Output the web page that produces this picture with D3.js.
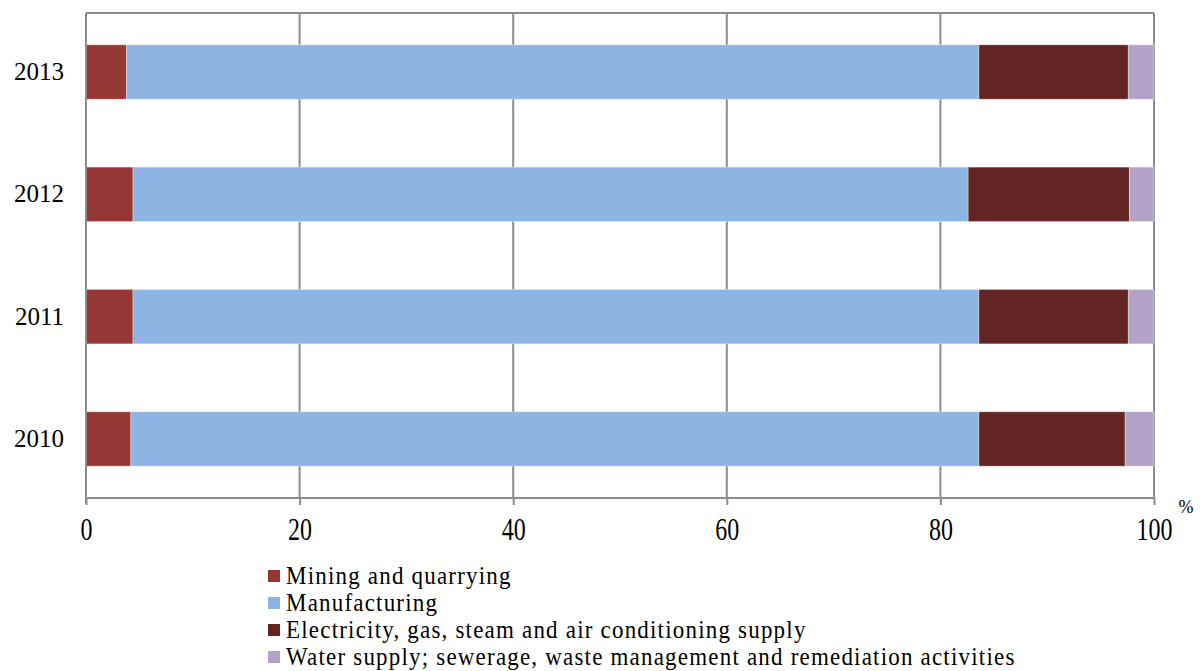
<!DOCTYPE html>
<html><head><meta charset="utf-8">
<script src="https://cdn.jsdelivr.net/npm/d3@7"></script>
</head><body style="margin:0">
<svg id="c" width="1200" height="671" font-family="Liberation Serif" style="font-family:'Liberation Serif';display:block"></svg>
<script>
const years = ["2010","2011","2012","2013"];
const seriesNames = ["Mining and quarrying","Manufacturing","Electricity, gas, steam and air conditioning supply","Water supply; sewerage, waste management and remediation activities"];
const mining        = [4.2, 4.4, 4.4, 3.8];
const manufacturing = [79.4, 79.2, 78.2, 79.8];
const electricity   = [13.7, 14.0, 15.1, 14.0];
const water         = [2.7, 2.4, 2.3, 2.4];
const xTicks = [0,20,40,60,80,100];
const colors = ["#953735","#8EB4E3","#632523","#B3A2C7"];

const svg = d3.select("#c");
const L=86, R=1154, T=13, B=498;
const x = d3.scaleLinear().domain([0,100]).range([L,R]);
const y = d3.scaleBand().domain(years.slice().reverse()).range([T,B]).paddingInner(0.555).paddingOuter(0.26);

const rows = years.map((yr,i)=>({year:yr, v:[mining[i],manufacturing[i],electricity[i],water[i]]}));
const stack = d3.stack().keys([0,1,2,3]).value((d,k)=>d.v[k]);
const layers = stack(rows);

svg.append("g").selectAll("line").data(xTicks.slice(1)).join("line")
  .attr("x1",d=>x(d)).attr("x2",d=>x(d)).attr("y1",T).attr("y2",B)
  .attr("stroke","#8c8c8c").attr("stroke-width",2);
svg.append("line").attr("x1",L).attr("x2",R).attr("y1",T).attr("y2",T).attr("stroke","#8c8c8c").attr("stroke-width",2);

svg.append("g").selectAll("g").data(layers).join("g")
  .attr("fill",(d,i)=>colors[i])
  .selectAll("rect").data(d=>d).join("rect")
  .attr("x",d=>x(d[0])).attr("width",d=>x(d[1])-x(d[0]))
  .attr("y",d=>y(d.data.year)).attr("height",y.bandwidth())
  .attr("stroke","rgba(255,255,255,0.35)").attr("stroke-width",1);

const xa = svg.append("g").attr("transform",`translate(0,${B})`)
  .call(d3.axisBottom(x).tickValues(xTicks).tickSize(7).tickPadding(14).tickFormat(d3.format("d")));
xa.attr("font-family","Liberation Serif").attr("font-size",24);
xa.select(".domain").attr("stroke","#8c8c8c").attr("stroke-width",2).attr("d",`M${L},0H${R}`);
xa.selectAll(".tick line").attr("stroke","#8c8c8c").attr("stroke-width",2);
xa.selectAll(".tick text").attr("fill","#000").attr("y",0).attr("dy",0)
  .attr("transform","translate(0,42) scale(1,1.3)");

const ya = svg.append("g").attr("transform",`translate(${L},0)`)
  .call(d3.axisLeft(y).tickSize(0).tickPadding(22));
ya.attr("font-family","Liberation Serif").attr("font-size",25);
ya.select(".domain").attr("stroke","#8c8c8c").attr("stroke-width",2).attr("d",`M0,${T}V${B+6}`);
ya.selectAll(".tick text").attr("fill","#000");

svg.append("text").attr("x",1186).attr("y",513).attr("text-anchor","middle")
  .attr("font-size",18).text("%");

const lg = svg.append("g").attr("font-size",23).selectAll("g").data(seriesNames).join("g")
  .attr("transform",(d,i)=>`translate(268,${576+i*27})`);
lg.append("rect").attr("x",0).attr("y",-6).attr("width",12).attr("height",12).attr("fill",(d,i)=>colors[i]);
lg.append("text").attr("transform","translate(18,8) scale(1,1.08)").attr("letter-spacing",1.2).text(d=>d);
</script>
</body></html>
